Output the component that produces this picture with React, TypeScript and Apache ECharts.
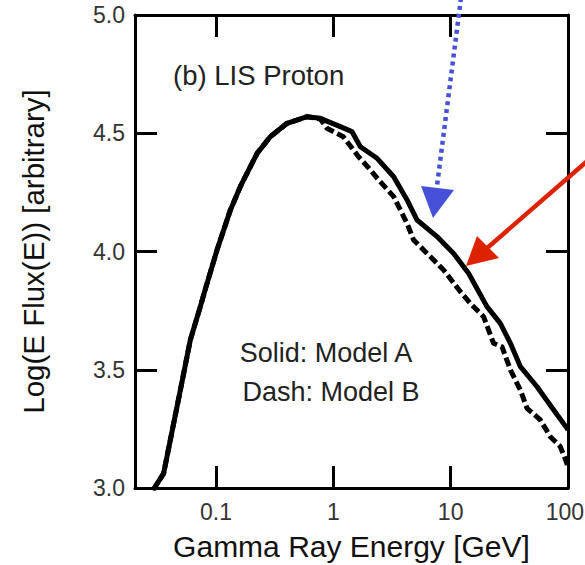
import React, { useEffect, useRef } from "react";
import * as echarts from "echarts";

// Energies in GeV and Log(E Flux(E)) values
const solidEnergy = [0.029, 0.0358, 0.0408, 0.0497, 0.0604, 0.0735, 0.081, 0.102, 0.1325, 0.161, 0.224, 0.29, 0.403, 0.597, 0.774, 1.147, 1.44, 1.7, 2.36, 3.27, 4.25, 5.17, 7.65, 10.6, 14.2, 20.4, 26.5, 32.3, 39.3, 54.5, 75.5, 98.2, 100];
const solidFlux = [2.99, 3.062, 3.203, 3.414, 3.626, 3.767, 3.84, 4.006, 4.175, 4.274, 4.415, 4.485, 4.542, 4.57, 4.563, 4.528, 4.507, 4.443, 4.394, 4.316, 4.218, 4.133, 4.063, 3.992, 3.908, 3.767, 3.696, 3.612, 3.513, 3.428, 3.33, 3.252, 3.245];

const dashEnergy = [0.029, 0.0358, 0.0408, 0.0497, 0.0604, 0.0735, 0.081, 0.102, 0.1325, 0.161, 0.224, 0.29, 0.403, 0.597, 0.774, 0.883, 1.217, 1.64, 2.07, 2.36, 3.27, 4.25, 4.83, 6.29, 8.71, 12.1, 14.7, 19.1, 23.2, 27.4, 32.3, 39.3, 44.8, 58.1, 70.7, 86.0, 96.8, 100];
const dashFlux = [2.99, 3.062, 3.203, 3.414, 3.626, 3.767, 3.84, 4.006, 4.175, 4.274, 4.415, 4.485, 4.542, 4.57, 4.56, 4.521, 4.485, 4.401, 4.345, 4.31, 4.232, 4.119, 4.049, 3.992, 3.922, 3.83, 3.781, 3.724, 3.612, 3.597, 3.499, 3.414, 3.337, 3.288, 3.217, 3.175, 3.111, 3.085];

const xTickValues = [0.1, 1, 10, 100];
const xLabelValues = [0.1, 1, 10];
const xEdgeLabel = "100";
const yMin = 3.0;
const yMax = 5.0;
const yStep = 0.5;
const xMinEnergy = 0.0204;
const xMaxEnergy = 100;

const FONT = "Liberation Sans, Arial, Helvetica, sans-serif";

export default function App() {
  const ref = useRef<HTMLDivElement>(null);
  useEffect(() => {
    if (!ref.current) return;
    const chart = echarts.init(ref.current, undefined, { renderer: "svg" });
    const logTicks = xTickValues.map((v) => Math.log10(v));
    const logLabels = xLabelValues.map((v) => Math.log10(v));
    const fmtX = (v: number) => String(parseFloat(Math.pow(10, v).toPrecision(3)));
    const baseX = {
      type: "value" as const,
      min: Math.log10(xMinEnergy),
      max: Math.log10(xMaxEnergy),
      axisLine: { show: true, onZero: false, lineStyle: { color: "#000", width: 3 } },
      axisTick: { show: true, inside: true, length: 22, customValues: logTicks, lineStyle: { color: "#000", width: 3 } },
      splitLine: { show: false },
    };
    const baseY = {
      type: "value" as const,
      min: yMin,
      max: yMax,
      interval: yStep,
      axisLine: { show: true, onZero: false, lineStyle: { color: "#000", width: 3 } },
      axisTick: { show: true, inside: true, length: 22, lineStyle: { color: "#000", width: 3 } },
      splitLine: { show: false },
    };
    chart.setOption({
      animation: false,
      backgroundColor: "#fff",
      grid: { left: 135, right: 17, top: 15, bottom: 77, containLabel: false, outerBoundsMode: "none" },
      xAxis: [
        {
          ...baseX,
          position: "bottom",
          name: "Gamma Ray Energy [GeV]",
          nameLocation: "middle",
          nameGap: 43,
          nameTextStyle: { fontFamily: FONT, fontSize: 30, color: "#111" },
          axisLabel: {
            show: true,
            customValues: logLabels,
            formatter: fmtX,
            showMaxLabel: true,
            showMinLabel: true,
            margin: 12,
            fontFamily: FONT,
            fontSize: 23,
            color: "#333",
          },
        },
        { ...baseX, position: "top", axisLabel: { show: false } },
      ],
      yAxis: [
        {
          ...baseY,
          position: "left",
          name: "Log(E Flux(E)) [arbitrary]",
          nameLocation: "middle",
          nameGap: 87,
          nameTextStyle: { fontFamily: FONT, fontSize: 29.5, color: "#111" },
          axisLabel: {
            show: true,
            margin: 10,
            formatter: (v: number) => v.toFixed(1),
            fontFamily: FONT,
            fontSize: 23,
            color: "#333",
          },
        },
        { ...baseY, position: "right", axisLabel: { show: false } },
      ],
      series: [
        {
          type: "line",
          xAxisIndex: 0,
          yAxisIndex: 0,
          showSymbol: false,
          symbol: "none",
          clip: true,
          data: dashEnergy.map((e, i) => [Math.log10(e), dashFlux[i]]),
          lineStyle: { color: "#000", width: 5, type: [9, 4], join: "round" },
          z: 2,
        },
        {
          type: "line",
          xAxisIndex: 0,
          yAxisIndex: 0,
          showSymbol: false,
          symbol: "none",
          clip: true,
          data: solidEnergy.map((e, i) => [Math.log10(e), solidFlux[i]]),
          lineStyle: { color: "#000", width: 5, type: "solid", join: "round" },
          z: 3,
        },
      ],
      graphic: [
        {
          type: "text",
          x: 584,
          y: 500,
          style: { text: xEdgeLabel, fontFamily: FONT, fontSize: 23, fill: "#333", align: "right", verticalAlign: "top" },
        },
        {
          type: "text",
          left: 173,
          top: 61,
          style: { text: "(b) LIS Proton", fontFamily: FONT, fontSize: 27.5, fill: "#222" },
        },
        {
          type: "text",
          x: 326,
          y: 353,
          style: { text: "Solid: Model A", fontFamily: FONT, fontSize: 27, fill: "#222", align: "center", verticalAlign: "middle" },
        },
        {
          type: "text",
          x: 331,
          y: 392,
          style: { text: "Dash: Model B", fontFamily: FONT, fontSize: 27, fill: "#222", align: "center", verticalAlign: "middle" },
        },
        {
          type: "line",
          shape: { x1: 461, y1: -2, x2: 437, y2: 186 },
          style: { stroke: "#4650d8", lineWidth: 4.5, lineDash: [4, 4] },
          z: 10,
        },
        {
          type: "polygon",
          shape: { points: [[421, 186], [454, 190], [433, 218]] },
          style: { fill: "#4650d8" },
          z: 10,
        },
        {
          type: "line",
          shape: { x1: 600, y1: 150, x2: 486, y2: 249 },
          style: { stroke: "#dd2200", lineWidth: 4.5 },
          z: 10,
        },
        {
          type: "polygon",
          shape: { points: [[466, 266], [477, 236], [499, 258]] },
          style: { fill: "#dd2200" },
          z: 10,
        },
      ],
    });
    return () => chart.dispose();
  }, []);
  return (
    <div
      ref={ref}
      style={{ position: "fixed", left: 0, top: 0, width: 585, height: 565, background: "#fff" }}
    />
  );
}
